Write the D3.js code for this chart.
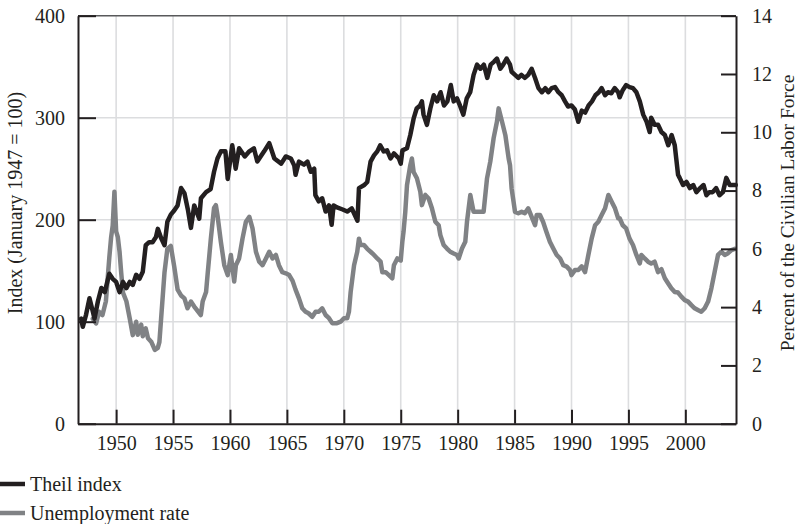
<!DOCTYPE html>
<html>
<head>
<meta charset="utf-8">
<script src="https://cdn.jsdelivr.net/npm/d3@7"></script>
<style>
  body { margin: 0; background: #fff; }
  svg text { font-family: "Liberation Serif", "DejaVu Serif", serif; fill: #231f20; }
</style>
</head>
<body>
<svg class="chart"></svg>
<script>
// Theil index (January 1947 = 100), [year, value]
const theil = [
  [1946.92,103],[1947.07,95],[1947.36,107],[1947.66,123],[1947.95,110],[1948.1,103],[1948.4,120],[1948.7,133],
  [1949.0,129],[1949.4,147],[1949.7,142],[1950.0,139],[1950.3,129],[1950.6,139],[1950.9,133],[1951.2,139],
  [1951.46,136],[1951.76,146],[1952.05,142],[1952.34,149],[1952.6,175],[1952.9,178],[1953.2,178],[1953.5,183],
  [1953.66,191],[1953.95,182],[1954.25,175],[1954.5,198],[1954.8,205],[1955.1,209],[1955.4,214],[1955.7,231],
  [1956.0,226],[1956.3,210],[1956.57,192],[1956.86,214],[1957.3,201],[1957.45,221],[1957.9,227],[1958.3,230],
  [1958.6,247],[1958.9,260],[1959.2,267],[1959.6,267],[1959.8,240],[1960.2,273],[1960.5,250],[1960.8,270],
  [1961.3,262],[1961.7,267],[1962.1,270],[1962.4,257],[1963.0,267],[1963.45,275],[1963.9,260],[1964.5,255],
  [1964.9,262],[1965.35,260],[1965.65,253],[1965.76,244],[1966.06,257],[1966.5,254],[1966.8,257],[1967.1,247],
  [1967.4,250],[1967.5,224],[1967.8,218],[1968.1,221],[1968.4,208],[1968.7,214],[1968.93,195],[1969.1,214],
  [1969.4,212],[1969.9,210],[1970.3,208],[1970.7,211],[1971.2,199],[1971.33,231],[1971.8,234],[1972.06,237],
  [1972.35,257],[1972.65,263],[1972.94,267],[1973.2,273],[1973.5,267],[1973.8,268],[1974.1,260],[1974.4,265],
  [1974.84,260],[1975.0,255],[1975.15,268],[1975.55,270],[1975.84,283],[1976.13,299],[1976.4,309],[1976.7,312],
  [1976.86,316],[1977.0,303],[1977.3,293],[1977.6,309],[1977.9,322],[1978.2,316],[1978.5,325],[1978.8,312],
  [1979.1,316],[1979.4,332],[1979.65,316],[1979.94,319],[1980.2,312],[1980.5,303],[1980.8,319],[1981.1,325],
  [1981.4,342],[1981.7,352],[1982.0,348],[1982.3,352],[1982.6,339],[1982.9,352],[1983.2,355],[1983.45,358],
  [1983.75,348],[1984.0,352],[1984.3,358],[1984.6,352],[1984.74,345],[1985.04,342],[1985.33,339],[1985.6,342],
  [1985.9,339],[1986.2,342],[1986.5,348],[1986.8,339],[1987.1,329],[1987.4,325],[1987.7,329],[1987.96,325],
  [1988.26,329],[1988.55,330],[1988.85,325],[1989.14,322],[1989.43,316],[1989.7,311],[1990.0,312],[1990.3,308],
  [1990.6,296],[1990.9,307],[1991.2,305],[1991.5,312],[1991.8,316],[1992.1,322],[1992.4,325],[1992.65,329],
  [1992.95,322],[1993.2,325],[1993.5,324],[1993.8,329],[1994.1,325],[1994.23,320],[1994.5,327],[1994.8,332],
  [1995.1,330],[1995.4,329],[1995.7,325],[1996.0,316],[1996.3,303],[1996.6,296],[1996.87,286],[1997.0,300],
  [1997.3,293],[1997.6,293],[1997.9,286],[1998.2,283],[1998.5,273],[1998.8,283],[1999.07,273],[1999.2,260],
  [1999.36,244],[1999.5,241],[1999.8,234],[2000.1,237],[2000.4,231],[2000.7,234],[2000.97,227],[2001.3,231],
  [2001.6,234],[2001.85,224],[2002.1,227],[2002.4,227],[2002.7,231],[2003.0,224],[2003.3,227],[2003.6,241],
  [2003.9,234],[2004.2,234],[2004.43,234]
];

// Unemployment rate, percent of the civilian labor force, [year, value]
const unemployment = [
  [1947.95,3.6],[1948.24,3.44],[1948.5,3.84],[1948.8,3.73],[1949.1,4.2],[1949.4,5.7],[1949.56,6.4],[1949.7,6.8],
  [1949.85,7.96],[1950.0,6.6],[1950.15,6.4],[1950.3,5.9],[1950.44,5.2],[1950.6,4.5],[1950.9,4.2],[1951.2,3.6],
  [1951.46,3.04],[1951.76,3.5],[1951.9,3.05],[1952.2,3.4],[1952.34,3.0],[1952.6,3.27],[1952.8,2.93],[1953.1,2.8],
  [1953.4,2.53],[1953.66,2.6],[1953.8,2.8],[1953.95,3.6],[1954.25,5.2],[1954.5,6.0],[1954.8,6.1],[1955.1,5.4],
  [1955.4,4.6],[1955.7,4.4],[1956.0,4.3],[1956.27,3.96],[1956.57,4.19],[1956.86,4.02],[1957.44,3.73],[1957.6,4.19],
  [1957.9,4.52],[1958.03,5.1],[1958.32,6.35],[1958.6,7.4],[1958.76,7.5],[1958.9,7.16],[1959.2,6.24],[1959.5,5.44],
  [1959.8,5.1],[1960.08,5.79],[1960.37,4.88],[1960.52,5.44],[1960.8,5.67],[1961.1,6.35],[1961.4,6.93],[1961.7,7.1],
  [1961.98,6.7],[1962.28,5.9],[1962.57,5.56],[1962.86,5.44],[1963.16,5.67],[1963.45,5.9],[1963.74,5.67],[1964.03,5.79],
  [1964.3,5.44],[1964.6,5.2],[1964.9,5.16],[1965.2,5.1],[1965.5,4.9],[1965.76,4.6],[1966.06,4.3],[1966.35,3.96],
  [1966.64,3.84],[1966.9,3.79],[1967.23,3.67],[1967.52,3.84],[1967.8,3.84],[1968.1,3.96],[1968.4,3.73],[1968.7,3.62],
  [1968.98,3.45],[1969.4,3.45],[1969.72,3.5],[1970.01,3.62],[1970.3,3.62],[1970.45,3.84],[1970.6,4.52],[1970.9,5.44],
  [1971.18,5.9],[1971.33,6.35],[1971.47,6.13],[1971.77,6.13],[1972.06,6.0],[1972.35,5.9],[1972.65,5.79],[1972.94,5.67],
  [1973.23,5.56],[1973.38,5.2],[1973.67,5.2],[1973.96,5.1],[1974.26,4.99],[1974.4,5.44],[1974.7,5.67],[1975.0,5.6],
  [1975.14,6.24],[1975.25,6.6],[1975.4,7.27],[1975.55,8.19],[1975.84,8.87],[1975.98,9.1],[1976.13,8.64],[1976.42,8.42],
  [1976.72,7.96],[1976.86,7.5],[1977.16,7.85],[1977.45,7.73],[1977.74,7.39],[1978.04,6.93],[1978.33,6.81],[1978.48,6.47],
  [1978.77,6.13],[1979.06,6.01],[1979.35,5.9],[1979.65,5.84],[1979.94,5.79],[1980.09,5.67],[1980.38,6.01],[1980.67,6.24],
  [1980.82,6.93],[1981.11,7.85],[1981.4,7.27],[1981.7,7.27],[1981.99,7.27],[1982.28,7.27],[1982.58,8.42],[1982.87,9.0],
  [1983.16,9.8],[1983.45,10.36],[1983.6,10.82],[1983.9,10.36],[1984.19,9.9],[1984.48,9.1],[1984.6,8.87],[1984.74,8.07],
  [1985.04,7.27],[1985.33,7.22],[1985.62,7.27],[1985.9,7.22],[1986.2,7.39],[1986.5,7.1],[1986.8,6.81],[1986.94,7.16],
  [1987.23,7.16],[1987.5,6.93],[1987.8,6.58],[1988.1,6.24],[1988.4,6.01],[1988.7,5.79],[1989.0,5.67],[1989.28,5.44],
  [1989.58,5.39],[1989.87,5.27],[1990.0,5.1],[1990.3,5.27],[1990.6,5.27],[1990.9,5.4],[1991.19,5.2],[1991.48,5.79],
  [1991.77,6.35],[1992.07,6.81],[1992.36,6.93],[1992.65,7.16],[1992.95,7.39],[1993.24,7.85],[1993.53,7.62],[1993.82,7.39],
  [1994.1,7.05],[1994.23,7.05],[1994.5,6.81],[1994.8,6.7],[1995.1,6.35],[1995.4,6.13],[1995.7,5.79],[1996.0,5.5],
  [1996.14,5.79],[1996.43,5.67],[1996.72,5.56],[1997.0,5.5],[1997.3,5.56],[1997.6,5.2],[1997.9,5.3],[1998.2,4.99],
  [1998.48,4.82],[1998.77,4.65],[1999.07,4.52],[1999.36,4.5],[1999.65,4.36],[1999.95,4.24],[2000.24,4.19],[2000.53,4.07],
  [2000.82,3.96],[2001.1,3.9],[2001.4,3.84],[2001.7,3.96],[2002.0,4.19],[2002.29,4.65],[2002.58,5.22],[2002.87,5.79],
  [2003.17,5.9],[2003.46,5.79],[2003.75,5.85],[2004.05,5.96],[2004.34,6.0]
];

const yearTicks = [1950, 1955, 1960, 1965, 1970, 1975, 1980, 1985, 1990, 1995, 2000];
const indexTicks = [0, 100, 200, 300, 400];
const percentTicks = [0, 2, 4, 6, 8, 10, 12, 14];
const seriesNames = ["Theil index", "Unemployment rate"];

const ink = "#231f20", grey = "#808285", grid = "#dcdddf";

const svgWidth = 799, svgHeight = 524;
const margin = { top: 15.7, right: 63, bottom: 100.3, left: 78 };
const width = svgWidth - margin.left - margin.right;
const height = svgHeight - margin.top - margin.bottom;

const svg = d3.select("svg.chart")
  .attr("width", svgWidth)
  .attr("height", svgHeight);

const g = svg.append("g")
  .attr("transform", `translate(${margin.left}, ${margin.top})`);

const x = d3.scaleLinear().domain([1946.65, 2004.45]).range([0, width]);
const yLeft = d3.scaleLinear().domain([0, 400]).range([height, 0]);
const yRight = d3.scaleLinear().domain([0, 14]).range([height, 0]);

// grid
g.append("g").selectAll("line")
  .data(yearTicks)
  .join("line")
  .attr("x1", d => x(d)).attr("x2", d => x(d))
  .attr("y1", 0).attr("y2", height)
  .attr("stroke", grid).attr("stroke-width", 1.6);

g.append("g").selectAll("line")
  .data(indexTicks.filter(d => d > 0 && d < 400))
  .join("line")
  .attr("x1", 0).attr("x2", width)
  .attr("y1", d => yLeft(d)).attr("y2", d => yLeft(d))
  .attr("stroke", grid).attr("stroke-width", 1.6);

// top border
g.append("line")
  .attr("x1", 0).attr("x2", width)
  .attr("y1", 0).attr("y2", 0)
  .attr("stroke", "#58595b").attr("stroke-width", 1.5);

// lines
const line = d3.line()
  .x(d => x(d[0]));

g.append("path")
  .datum(unemployment)
  .attr("fill", "none")
  .attr("stroke", grey)
  .attr("stroke-width", 4.5)
  .attr("stroke-linejoin", "round")
  .attr("stroke-linecap", "round")
  .attr("d", line.y(d => yRight(d[1])));

g.append("path")
  .datum(theil)
  .attr("fill", "none")
  .attr("stroke", ink)
  .attr("stroke-width", 4.5)
  .attr("stroke-linejoin", "round")
  .attr("stroke-linecap", "round")
  .attr("d", line.y(d => yLeft(d[1])));

// axes
function styleAxis(sel) {
  sel.selectAll(".domain").attr("stroke", ink).attr("stroke-width", 2);
  sel.selectAll(".tick line").attr("stroke", ink).attr("stroke-width", 2);
  sel.selectAll(".tick text")
    .attr("fill", ink)
    .style("font-family", '"Liberation Serif", serif')
    .style("font-size", "20px");
}

g.append("g")
  .attr("transform", `translate(0, ${height})`)
  .call(d3.axisBottom(x).tickValues(yearTicks).tickFormat(d3.format("d"))
    .tickSize(-14).tickSizeOuter(0).tickPadding(12))
  .call(styleAxis);

g.append("g")
  .call(d3.axisLeft(yLeft).tickValues(indexTicks)
    .tickSize(-18).tickSizeOuter(0).tickPadding(13))
  .call(styleAxis);

g.append("g")
  .attr("transform", `translate(${width}, 0)`)
  .call(d3.axisRight(yRight).tickValues(percentTicks)
    .tickSize(-15).tickSizeOuter(0).tickPadding(16))
  .call(styleAxis);

// axis titles
svg.append("text")
  .attr("transform", "translate(22, 203) rotate(-90)")
  .attr("text-anchor", "middle")
  .style("font-size", "20px")
  .text("Index (January 1947 = 100)");

svg.append("text")
  .attr("transform", "translate(794, 213) rotate(-90)")
  .attr("text-anchor", "middle")
  .style("font-size", "19.5px")
  .text("Percent of the Civilian Labor Force");

// legend
const legend = svg.append("g")
  .selectAll("g")
  .data(seriesNames)
  .join("g")
  .attr("transform", (d, i) => `translate(0, ${484 + i * 29})`);

legend.append("line")
  .attr("x1", 0).attr("x2", 25)
  .attr("stroke", (d, i) => i === 0 ? ink : grey)
  .attr("stroke-width", 4.5);

legend.append("text")
  .attr("x", 30)
  .attr("dy", "0.33em")
  .style("font-size", "20px")
  .text(d => d);
</script>
</body>
</html>
